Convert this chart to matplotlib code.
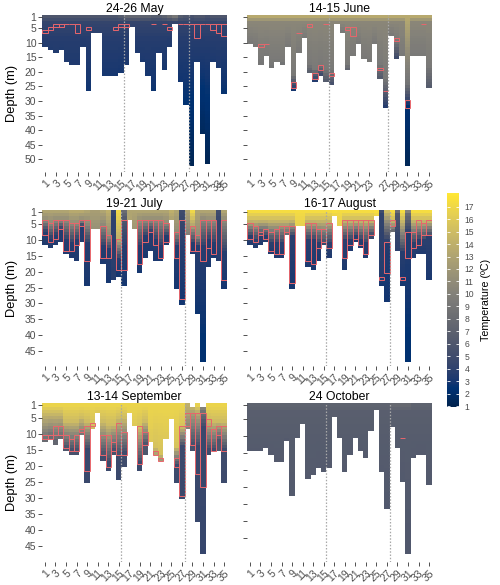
import numpy as np
import matplotlib
matplotlib.use("Agg")
import matplotlib.pyplot as plt
from matplotlib.patches import Rectangle
from matplotlib.colors import Normalize
from matplotlib.cm import ScalarMappable

plt.rcParams['font.family'] = ['Liberation Sans', 'DejaVu Sans']
nan = np.nan

# ---------------- DATA ----------------
titles = ["24-26 May", "14-15 June", "19-21 July", "16-17 August", "13-14 September", "24 October"]

# ---- May (station 34 missing)
may_stations = [1,2,3,4,5,6,7,8,9,10,11,12,13,14,15,16,17,18,19,20,21,22,23,24,25,26,27,28,29,30,31,32,33,35]
may_maxd = [11,12,13,12,16,17,17,11,26,6,6,21,21,21,20,17,4,13,16,21,26,13,19,11,3,23,31,52,16,41,51,16,18,27]
may_box_top = [5.5,4.5,3.5,3.5,3.5,3.5,3.5,nan,4.5,nan,nan,nan,nan,4.5,3.5,3.5,nan,nan,nan,nan,3.5,nan,3.5,4.5,nan,3.5,3.5,3.5,3.5,3.5,3.5,3.5,3.5,3.5]
may_box_bot = [6.5,5.5,4.5,4.5,3.5,3.5,6.5,nan,5.5,nan,nan,nan,nan,5.5,4.5,4.5,nan,nan,nan,nan,3.5,nan,3.5,5.5,nan,3.5,3.5,3.5,8.5,3.5,3.5,5.5,6.5,7.5]
may_tsurf = [6,6,6,6,6,6,6,6,6,6,6,6,6,6,6.5,7.5,7.5,7.5,7,7,6.5,6.5,7,8,9,6.5,6,5.5,6,6,5.5,6,6,6]
may_zmix = 3
may_tmix = 4.3
may_zdeep = 8
may_tdeep = 3.6
may_tbot = [3.4,3.4,3.4,3.4,3.3,3.3,3.3,3.4,2.8,4,4,3.0,3.0,3.0,3.0,3.2,4.2,3.3,3.2,3.0,2.7,3.3,3.0,3.4,4.5,2.8,2.4,1.2,3.2,1.5,1.2,3.2,3.2,2.6]

# ---- June (station 25 missing)
jun_stations = [1,2,3,4,5,6,7,8,9,10,11,12,13,14,15,16,17,18,19,20,21,22,23,24,26,27,28,29,30,31,32,33,34,35]
jun_maxd = [10,11,17,14,18,16,17,11,26,13,8,20,23,21,23,24,3,6,19,14,10,15,16,10,22,32,7,15,14,52,14,14,14,25]
jun_box_top = [nan,nan,10.5,10.5,nan,nan,nan,nan,23.5,6.5,nan,3.5,20.5,17.5,3.5,20.5,nan,nan,4.5,4.5,nan,nan,nan,nan,18.5,26.5,nan,8.5,nan,29.5,nan,nan,3.5,nan]
jun_box_bot = [nan,nan,11.5,10.5,nan,nan,nan,nan,25.5,6.5,nan,4.5,22.5,19.5,3.5,21.5,nan,nan,5.5,7.5,nan,nan,nan,nan,19.5,26.5,nan,9.5,nan,32.5,nan,nan,3.5,nan]
jun_tsurf = 13.5
jun_zmix = [3,3,3,3,3,3,3,3,3,3,3,3,3,3,3,3,3,3,3,3,3,3,3,3,3,3,3,3,3,24,3,3,3,3]
jun_tmix = [10.5,10.5,10.5,10.5,10.5,10.5,10.5,10.5,10.5,10.5,10.5,10.5,10.5,10.5,10.5,10.5,10.5,10.5,10.5,10.5,10.5,10.5,10.5,10.5,10.5,10.5,10.5,10.5,10.5,8.8,10.5,10.5,10.5,10.5]
jun_zdeep = [10,11,15,14,16,16,16,11,21,13,8,17,19,17,19,19,3,6,17,14,10,15,16,10,17,22,7,9,14,32,14,14,14,18]
jun_tdeep = [9.3,9.3,9.3,9.3,9.3,9.3,9.3,9.3,9.3,9.3,9.3,9.3,9.3,9.3,9.3,9.3,9.3,9.3,9.3,9.3,9.3,9.3,9.3,9.3,9.3,9.3,9.3,9.3,9.3,2.3,9.3,9.3,9.3,9.3]
jun_tbot = [9.3,9.2,9.0,9.2,8.8,9.0,8.8,9.2,3.0,9.2,9.5,7.0,3.5,5.0,6.5,5.5,10,10,7.5,9.2,9.5,9.0,8.8,9.5,6.5,3.5,9.5,5.0,8.8,1.3,8.8,8.8,8.8,6.5]

# ---- July
jul_stations = list(range(1, 36))
jul_maxd = [11,12,11,10,14,15,16,10,24,6,6,17,23,22,21,24,3,6,20,15,13,16,16,11,3,25,30,8,14,33,48,18,15,16,25]
jul_box_top = [3.5,4.5,3.5,3.5,3.5,4.5,4.5,3.5,3.5,nan,nan,5.5,8.5,nan,9.5,3.5,nan,nan,3.5,3.5,3.5,3.5,3.5,4.5,nan,7.5,3.5,nan,5.5,8.5,3.5,3.5,3.5,nan,3.5]
jul_box_bot = [8.5,10.5,9.5,6.5,13.5,13.5,11.5,5.5,16.5,nan,nan,15.5,15.5,nan,19.5,19.5,nan,nan,17.5,10.5,7.5,11.5,15.5,10.5,nan,15.5,28.5,nan,13.5,13.5,16.5,12.5,14.5,nan,22.5]
jul_tsurf = [13,13,13,13,13,13.5,13.5,13.5,13,12.5,12.5,13,14,4.5,17,8,13,13,13,13,13,13,13,13,14,13,5,13,17,13,13,13,13,5,13]
jul_zmix = [3.5,4.5,3.5,3.5,3.5,4.5,4.5,3.5,5,6,6,5.5,8.5,3,9.5,3.5,3,6,4,3.5,3.5,3.5,3.5,4.5,3,7.5,3.5,8,5.5,8.5,3.5,3.5,3.5,3,3.5]
jul_tmix = [11,11,11,11,11,11,11,11,10.5,11.5,11.5,10.5,11,4,14,6,13,12,11,11,11,11,11,11,13,11,4.5,10,13,11,10.5,11,11,4.5,11]
jul_zdeep = [7.5,9.5,8.5,6.5,10,11,10,5.5,11,6,6,12,13,22,16,12,3,6,12,9,7.5,10,12,9,3,12,12,8,11,12,12,10,11,16,14]
jul_tdeep = 3.6
jul_tbot = [3.4,3.4,3.4,3.4,3.3,3.3,3.3,3.5,3.0,11.5,11.5,3.2,3.0,3.0,3.0,3.0,13,12,3.0,3.2,3.3,3.2,3.2,3.4,13,2.9,2.8,10,3.3,2.7,2.2,3.2,3.2,3.3,2.9]

# ---- August
aug_stations = list(range(1, 36))
aug_maxd = [11,12,11,10,14,15,15,8,25,5,5,18,19,16,11,15,2,5,19,13,10,12,15,9,2,24,29,7,13,24,48,15,14,14,22]
aug_box_top = [4.5,5.5,7.5,6.5,7.5,6.5,5.5,5.5,5.5,nan,nan,4.5,4.5,6.5,6.5,4.5,nan,nan,3.5,3.5,3.5,3.5,3.5,3.5,nan,21.5,10.5,3.5,nan,21.5,7.5,7.5,3.5,4.5,3.5]
aug_box_bot = [9.5,10.5,8.5,9.5,13.5,14.5,14.5,7.5,23.5,nan,nan,16.5,17.5,12.5,10.5,12.5,nan,nan,15.5,11.5,9.5,11.5,14.5,8.5,nan,22.5,20.5,5.5,nan,22.5,15.5,12.5,11.5,8.5,8.5]
aug_tsurf = [17.3,17.3,17.3,17.3,17.3,17.3,17.3,17.3,17.3,17.3,17.3,17.3,17.3,17.3,17.3,17.3,17.5,17.3,17.3,17.3,17.3,17.3,17.3,17.3,17.5,5,15,17.3,8,17.3,10,17.3,17.3,17.3,17.3]
aug_zmix = [3.5,3.5,3.5,3.5,3.5,3.5,3.5,3.5,3.5,5,5,3.5,3.5,3.5,3.5,3.5,2,5,3.5,3.5,3.5,3.5,3.5,3.5,2,2,4,3.5,2,3.5,2,3.5,3.5,3.5,3.5]
aug_tmix = [15,15,15,15,15,15,15,15,15,16.5,16.5,15,15,15,15,15,17,16.5,15,15,15,15,15,15,17,4.2,11,15,6,15,8,15,15,15,15]
aug_zdeep = [9,10,9,9,11,11,11,8,9,5,5,10,10,11,11,11,2,5,10,10,9,10,11,8.5,2,21.5,10.5,7,8,14,8,11,10,10,9]
aug_tdeep = [3.8,3.8,3.8,3.8,3.8,3.8,3.8,8,3.8,16.5,16.5,3.8,3.8,3.8,4.5,3.8,17,16.5,3.8,3.8,3.8,3.8,3.8,4.5,17,3.5,3.5,8,4.5,3.6,3.5,3.8,3.8,3.8,3.8]
aug_tbot = [3.4,3.4,3.4,3.4,3.3,3.3,3.3,8,3.0,16.5,16.5,3.2,3.2,3.3,4.5,3.3,17,16.5,3.2,3.3,3.4,3.3,3.3,4.5,17,3.0,2.8,8,4.0,3.0,2.2,3.3,3.3,3.3,3.1]

# ---- September
sep_stations = list(range(1, 36))
sep_maxd = [12,11,13,11,15,16,16,10,25,8,3,18,21,16,24,20,3,7,21,16,12,16,18,11,5,25,30,8,15,37,47,16,15,15,25]
sep_box_top = [10.5,10.5,7.5,7.5,10.5,11.5,10.5,8.5,7.5,6.5,nan,10.5,10.5,12.5,6.5,9.5,nan,nan,7.5,9.5,nan,15.5,17.5,nan,nan,17.5,7.5,3.5,3.5,3.5,3.5,5.5,8.5,7.5,7.5]
sep_box_bot = [11.5,11.5,10.5,10.5,14.5,15.5,15.5,9.5,21.5,7.5,nan,16.5,20.5,15.5,16.5,16.5,nan,nan,19.5,13.5,nan,16.5,18.5,nan,nan,20.5,29.5,7.5,13.5,22.5,26.5,7.5,15.5,10.5,15.5]
sep_tsurf = [16.8,16.8,16.8,16.8,16.8,16.8,16.8,16.8,16.8,16.8,16.8,16.8,16.8,16.8,16.8,16.8,16.8,16.8,16.8,16.8,16.8,16.8,16.8,16.8,16.8,16.8,16.8,14,15,16.5,12,16.8,16.8,16.8,16.8]
sep_zmix = [4,4,4,4,6,6,6,5,6,8,3,6,7,7,5,5,3,7,7.5,6,12,14,16,11,5,14,7.5,3.5,3,3,2.5,5.5,6,6,6]
sep_tmix = [14.5,14.5,14.5,14.5,15,15,15,15,15,15,16,15,15,15,15,15,16.5,16,15.5,15,16,15.5,15.5,16,16.5,15.5,15.5,13,13,14,9,15,15,15,15]
sep_zdeep = [12,11,12,11,14,15,15,10,15,8,3,17,19,15,17,16,3,7,19,13,12,16,18,11,5,20,14,8,13,14,8,15,15,12,15]
sep_tdeep = [8,8,7.5,8,6,5.5,5.5,9,4.6,11,16,5,4.8,5.5,4.8,5,16.5,15.5,4.8,6,15,13,12,15,16,4.8,4.8,10,5.5,4.6,4.6,5,5,6,5]
sep_tbot = [8,8,7.5,8,6,5.5,5.5,9,4.6,11,16,5,4.8,5.5,4.6,5,16.5,15.5,4.7,6,15,13,12,15,16,4.7,4.6,10,5.5,4.5,4.4,5,5,6,4.8]
sep_top_gap = [29, 31]

# ---- October
oct_stations = list(range(1, 36))
oct_maxd = [14,14,14,13,15,17,17,11,27,10,6,22,21,19,20,19,4,10,20,15,10,14,16,8,2,20,31,7,13,23,44,16,15,15,24]
oct_box_top = [nan]*29 + [10.5] + [nan]*5
oct_box_bot = [nan]*29 + [10.5] + [nan]*5
oct_tsurf = [7.2,7.2,7.2,7.2,7.2,7.2,7.2,7.2,7.2,7.2,7.2,7.2,7.2,7.2,7.2,7.2,7.2,7.2,7.2,7.2,7.2,7.2,7.2,7.2,7.2,7.2,7.2,7.8,7.8,7.8,7.8,7.2,7.2,7.2,7.2]
oct_zmix = 3
oct_tmix = 6.8
oct_zdeep = 10
oct_tdeep = 6.6
oct_tbot = [6.4,6.4,6.4,6.4,6.4,6.4,6.4,6.4,6.3,6.4,6.5,6.4,6.4,6.4,6.4,6.4,6.6,6.4,6.4,6.4,6.4,6.4,6.4,6.5,6.7,6.4,6.2,6.8,6.5,6.3,6.1,6.4,6.4,6.4,6.3]

y_ticks = [[1,5,10,15,20,25,30,35,40,45,50], [1,5,10,15,20,25,30,35,40,45,50],
           [1,5,10,15,20,25,30,35,40,45], [1,5,10,15,20,25,30,35,40,45],
           [1,5,10,15,20,25,30,35,40,45], [1,5,10,15,20,25,30,35,40]]
dotted_after = [15, 27]          # vertical dotted separators after these stations
temp_ticks = list(range(1, 18))

# ---------------- LAYOUT / STYLE ----------------
W, H = 500, 585
col_x = [(42.3, 226.7), (247.3, 431.7)]
row_y = [(15.2, 172.0), (210.1, 366.0), (403.4, 562.0)]
y_bottom = [54.4, 54.4, 49.8, 49.8, 50.1, 46.9]
VMIN, VMAX = 0.92, 18.1
RED = '#e8666c'
TICKC = '#4d4d4d'


def prof_grid(maxd, tsurf, zmix, tmix, zdeep, tdeep, tbot):
    n = len(maxd)
    arrs = [np.broadcast_to(np.asarray(a, float), (n,)) for a in (tsurf, zmix, tmix, zdeep, tdeep, tbot)]
    nrows = max(maxd)
    g = np.full((nrows, n), np.nan)
    for i in range(n):
        ts, zm, tm, zd, td, tb = (a[i] for a in arrs)
        md = maxd[i]
        xp = np.array([1.0, zm, zd, max(md, zd)])
        xp = np.maximum.accumulate(xp) + np.arange(4) * 1e-6
        d = np.arange(1, md + 1)
        g[:md, i] = np.interp(d, xp, [ts, tm, td, tb])
    return g


panels = [
    dict(st=may_stations, maxd=may_maxd, bt=may_box_top, bb=may_box_bot,
         prof=(may_tsurf, may_zmix, may_tmix, may_zdeep, may_tdeep, may_tbot), gap=[]),
    dict(st=jun_stations, maxd=jun_maxd, bt=jun_box_top, bb=jun_box_bot,
         prof=(jun_tsurf, jun_zmix, jun_tmix, jun_zdeep, jun_tdeep, jun_tbot), gap=[]),
    dict(st=jul_stations, maxd=jul_maxd, bt=jul_box_top, bb=jul_box_bot,
         prof=(jul_tsurf, jul_zmix, jul_tmix, jul_zdeep, jul_tdeep, jul_tbot), gap=[]),
    dict(st=aug_stations, maxd=aug_maxd, bt=aug_box_top, bb=aug_box_bot,
         prof=(aug_tsurf, aug_zmix, aug_tmix, aug_zdeep, aug_tdeep, aug_tbot), gap=[]),
    dict(st=sep_stations, maxd=sep_maxd, bt=sep_box_top, bb=sep_box_bot,
         prof=(sep_tsurf, sep_zmix, sep_tmix, sep_zdeep, sep_tdeep, sep_tbot), gap=sep_top_gap),
    dict(st=oct_stations, maxd=oct_maxd, bt=oct_box_top, bb=oct_box_bot,
         prof=(oct_tsurf, oct_zmix, oct_tmix, oct_zdeep, oct_tdeep, oct_tbot), gap=[]),
]

fig = plt.figure(figsize=(W / 100, H / 100), dpi=100)
cmap = plt.get_cmap('cividis').copy()
cmap.set_bad((1, 1, 1, 0))
norm = Normalize(VMIN, VMAX)


def px_axes(x0, y0, x1, y1):
    return fig.add_axes([x0 / W, 1 - y1 / H, (x1 - x0) / W, (y1 - y0) / H])


for k, p in enumerate(panels):
    r, c = divmod(k, 2)
    ax = px_axes(col_x[c][0], row_y[r][0], col_x[c][1], row_y[r][1])
    st = p['st']
    n = len(st)
    g = prof_grid(p['maxd'], *p['prof'])
    for s in p['gap']:
        g[0, st.index(s)] = np.nan
    xe = np.arange(n + 1) + 0.5
    ye = np.arange(g.shape[0] + 1) + 0.5
    ax.pcolormesh(xe, ye, np.ma.masked_invalid(g), cmap=cmap, norm=norm,
                  edgecolors='none', antialiased=False, rasterized=False)
    for i, (t, b) in enumerate(zip(p['bt'], p['bb'])):
        if not np.isnan(t):
            ax.add_patch(Rectangle((i + 0.5, t), 1.0, b - t, fill=False,
                                   edgecolor=RED, linewidth=0.7, zorder=3))
    for s in dotted_after:
        xline = st.index(s) + 1.5
        ax.axvline(xline, color='#a8a8a8', linestyle=(0, (1.2, 1.4)), linewidth=0.9, zorder=4)
    ax.set_xlim(0.5, n + 0.5)
    ax.set_ylim(y_bottom[k], 0.5)
    xt = [i + 1 for i, s in enumerate(st) if s % 2 == 1]
    ax.set_xticks(xt)
    ax.set_xticklabels([str(s) for s in st if s % 2 == 1], rotation=45,
                       ha='right', va='top', rotation_mode='anchor')
    ax.set_yticks(y_ticks[k])
    ax.tick_params(axis='both', length=2.6, width=0.6, color='#333333',
                   labelcolor=TICKC, labelsize=7.5, pad=1.6)
    if c == 1:
        ax.tick_params(axis='y', labelleft=False)
    for sp in ax.spines.values():
        sp.set_visible(False)
    ax.set_title(titles[k], fontsize=8.8, pad=2.2, color='black')
    if c == 0:
        yc = (row_y[r][0] + row_y[r][1]) / 2
        fig.text(12 / W, 1 - yc / H, 'Depth (m)', rotation=90, ha='center', va='center',
                 fontsize=9.3, color='black')

# colorbar
cax = px_axes(446.7, 193, 459, 407)
sm = ScalarMappable(norm=norm, cmap=plt.get_cmap('cividis'))
cb = fig.colorbar(sm, cax=cax, ticks=temp_ticks)
cb.outline.set_visible(False)
cax.yaxis.set_ticks_position('both')
cax.tick_params(direction='in', length=2.4, width=0.6, color='white',
                labelcolor=TICKC, labelsize=6.2, pad=4, labelleft=False, labelright=True)
fig.text(486 / W, 1 - 300 / H, 'Temperature (ºC)', rotation=90, ha='center', va='center',
         fontsize=7.7, color='black')

fig.savefig('out.png', dpi=100)
